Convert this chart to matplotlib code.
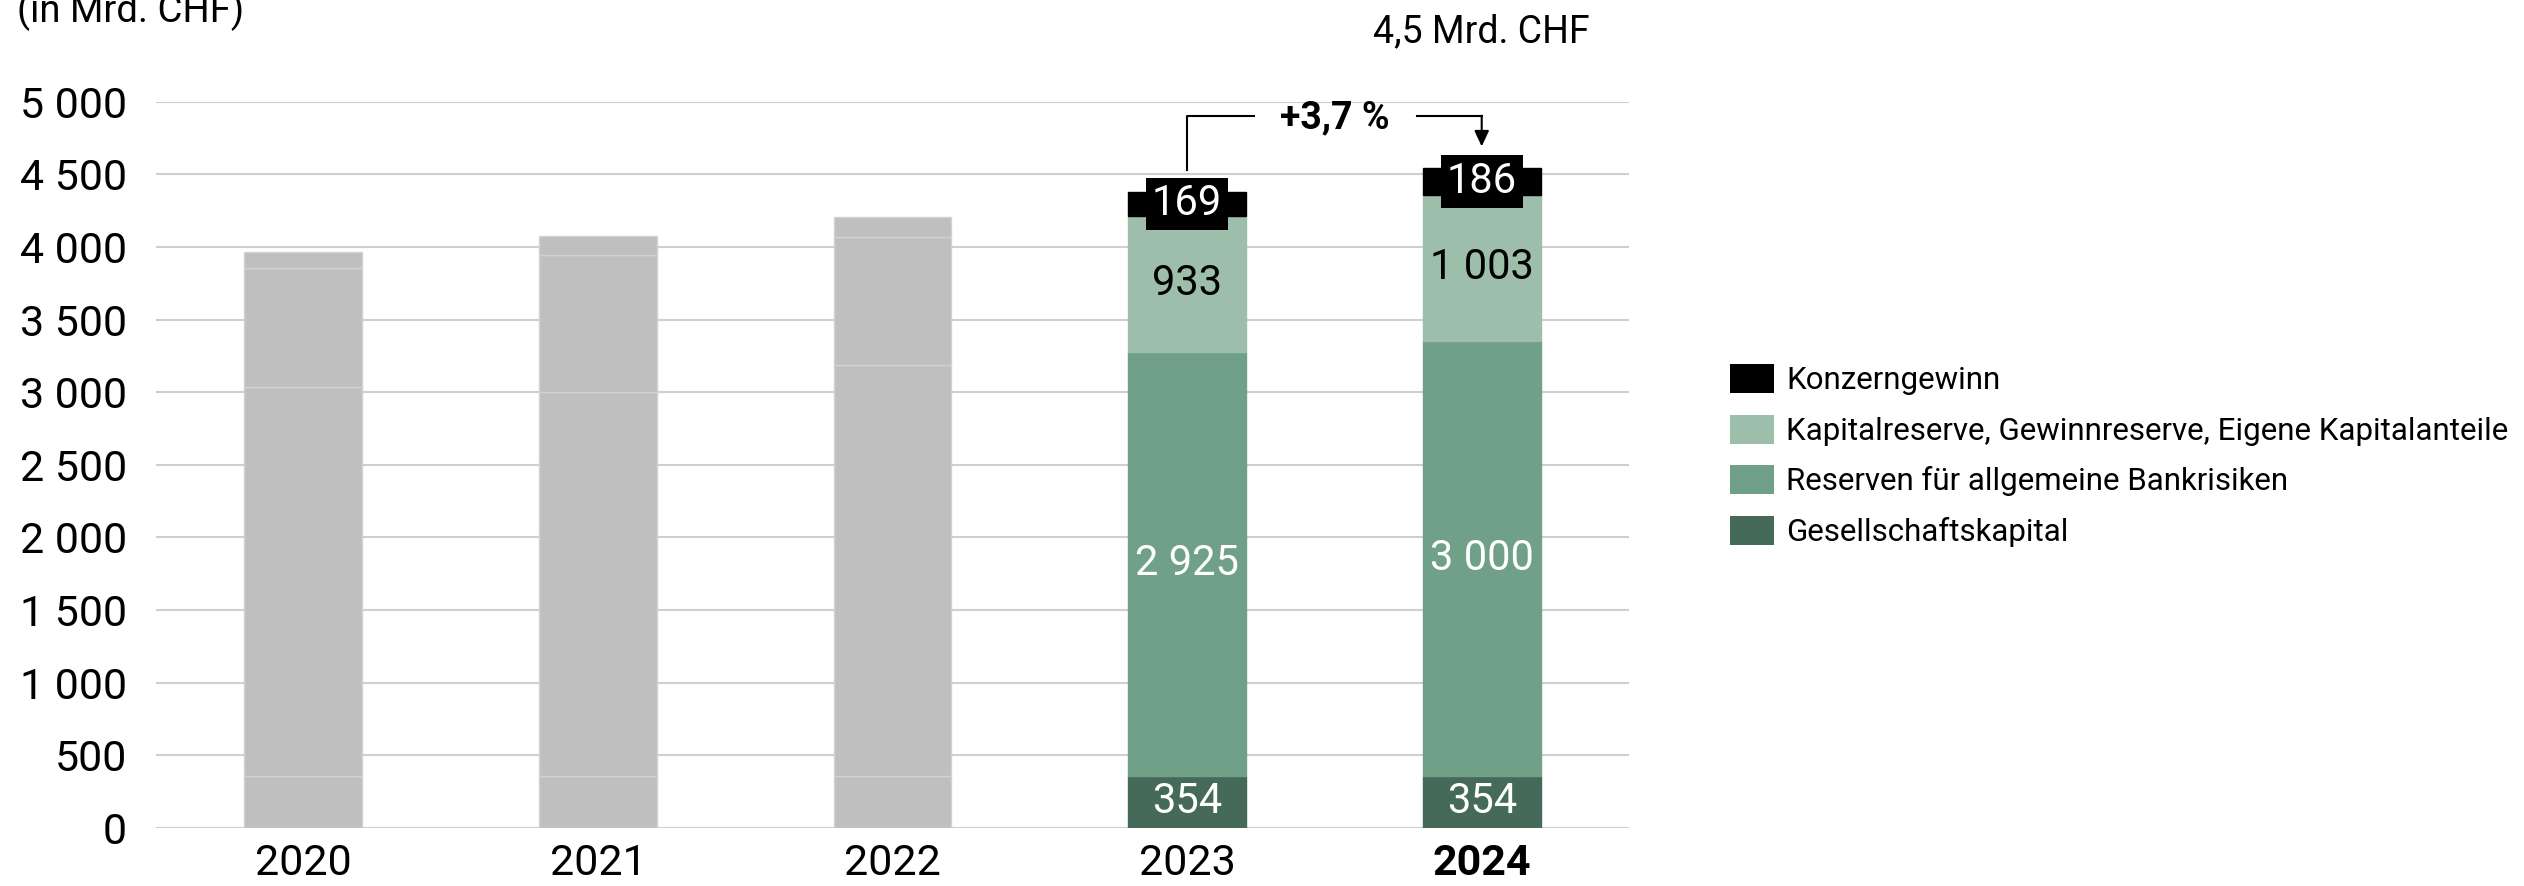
import matplotlib
matplotlib.use('Agg')
import matplotlib.pyplot as plt
from matplotlib.patches import Patch

plt.rcParams['font.family'] = ['Roboto', 'DejaVu Sans']
plt.rcParams['font.weight'] = 'normal'
plt.rcParams['text.color'] = 'black'

years = ['2020', '2021', '2022', '2023', '2024']
gesellschaftskapital = [354, 354, 354, 354, 354]
reserven_bankrisiken = [2680, 2646, 2834, 2925, 3000]
kapitalreserve = [820, 946, 880, 933, 1003]
konzerngewinn = [108, 126, 140, 169, 186]
series_names = ['Gesellschaftskapital', 'Reserven für allgemeine Bankrisiken',
                'Kapitalreserve, Gewinnreserve, Eigene Kapitalanteile', 'Konzerngewinn']
series_colors = ['#456a5a', '#71a088', '#9dbeaa', '#000000']
label_colors = ['white', 'white', 'black', 'white']
growth_label = '+3,7 %'
total_label = '4,5 Mrd. CHF'
unit_label = '(in Mrd. CHF)'

W, H = 2524, 886
fig = plt.figure(figsize=(W / 100, H / 100), dpi=100)
ax = fig.add_axes([156 / W, 1 - 827.7 / H, (1629 - 156) / W, (827.7 - 101.7) / H])

x = list(range(len(years)))
data = [gesellschaftskapital, reserven_bankrisiken, kapitalreserve, konzerngewinn]
bottom = [0] * len(years)
gray = '#bfbfbf'
for vals, col, lcol in zip(data, series_colors, label_colors):
    faces = [gray if i < 3 else col for i in x]
    edges = ['#d2d2d2' if i < 3 else col for i in x]
    ax.bar(x, vals, bottom=bottom, width=0.4, color=faces, edgecolor=edges, linewidth=1, zorder=2)
    for i in (3, 4):
        yc = bottom[i] + vals[i] / 2
        txt = f'{vals[i]:,}'.replace(',', ' ')
        if col == '#000000':
            ax.text(i, yc, txt, ha='center', va='center', color='white', fontsize=30, zorder=4,
                    bbox=dict(boxstyle='square,pad=0.14', fc='black', ec='none'))
        else:
            ax.text(i, yc, txt, ha='center', va='center', color=lcol, fontsize=30, zorder=4)
    bottom = [b + v for b, v in zip(bottom, vals)]

ax.set_xlim(-0.5, 4.5)
ax.set_ylim(0, 5000)
ax.set_yticks(range(0, 5001, 500))
ax.set_yticklabels([f'{v:,}'.replace(',', ' ') for v in range(0, 5001, 500)])
ax.set_xticks(x)
ax.set_xticklabels(years)
ax.get_xticklabels()[-1].set_fontweight('bold')
ax.tick_params(axis='y', length=0, pad=21, labelsize=31, labelcolor='black')
ax.tick_params(axis='x', length=0, pad=11, labelsize=31, labelcolor='black')
ax.yaxis.grid(True, color='#cfcfcf', linewidth=1.5, zorder=0)
ax.set_axisbelow(True)
for s in ax.spines.values():
    s.set_visible(False)

# growth bracket between 2023 and 2024
ax.plot([3, 3, 3.226], [4531, 4903, 4903], color='black', lw=1.5, clip_on=False, zorder=5)
ax.plot([3.779, 4], [4903, 4903], color='black', lw=1.5, clip_on=False, zorder=5)
ax.annotate('', xy=(4, 4692), xytext=(4, 4903),
            arrowprops=dict(arrowstyle='-|>,head_length=0.47,head_width=0.22', color='black',
                            lw=1.5, shrinkA=0, shrinkB=0, mutation_scale=20), annotation_clip=False)
ax.text(3.5, 4890, growth_label, ha='center', va='center', fontsize=27, fontweight='bold', clip_on=False)
ax.text(4, 5482, total_label, ha='center', va='center', fontsize=27, clip_on=False)

fig.text(17 / W, 1 - 22 / H, unit_label, ha='left', va='baseline', fontsize=27.5)

handles = [Patch(facecolor=c, edgecolor='none') for c in series_colors[::-1]]
fig.legend(handles, series_names[::-1], loc='center left', bbox_to_anchor=(1730 / W, 1 - 455.5 / H),
           frameon=False, handlelength=1.4, handleheight=1.05, handletextpad=0.4,
           labelspacing=0.62, borderpad=0, borderaxespad=0,
           prop={'family': ['Roboto', 'DejaVu Sans'], 'size': 22.5})

fig.savefig('out.png', dpi=100)
